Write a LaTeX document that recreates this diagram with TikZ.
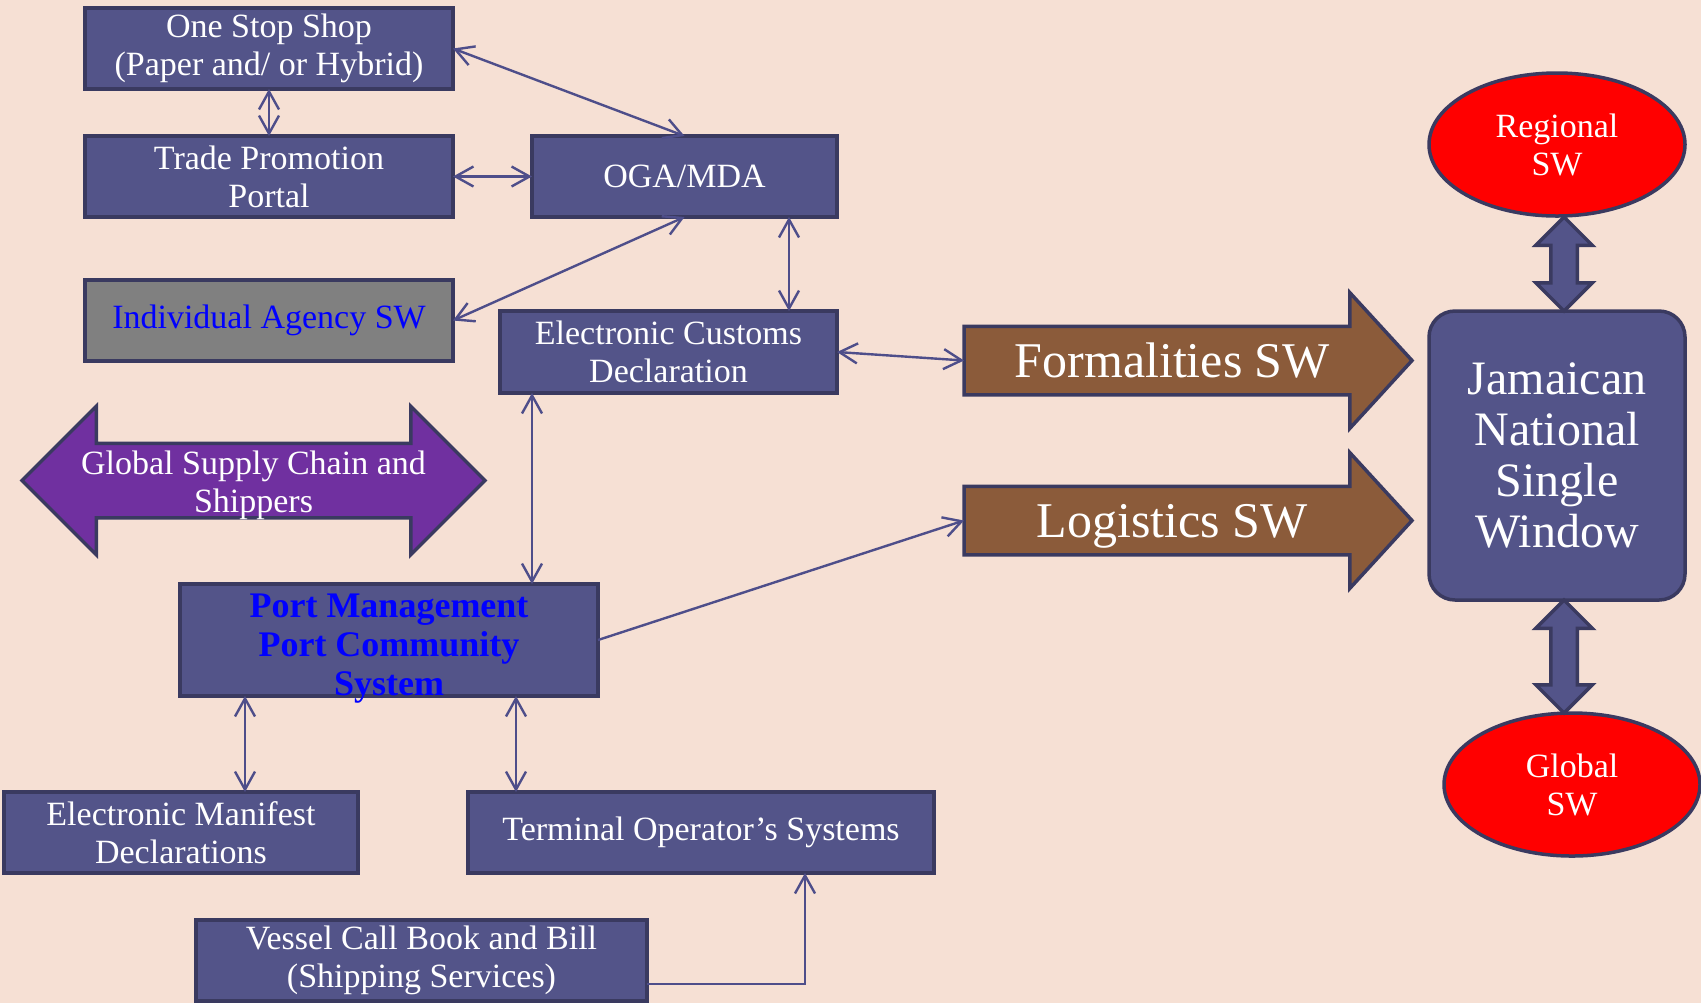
\documentclass[tikz,border=0pt]{standalone}
\usepackage{fontspec}
\setmainfont{Liberation Serif}
\usepackage{tikz}
\usetikzlibrary{positioning,shapes.geometric,shapes.arrows,arrows.meta}
\definecolor{fondo}{RGB}{246,224,212}
\definecolor{azulcaja}{RGB}{83,84,137}
\definecolor{borde}{RGB}{58,58,96}
\definecolor{linea}{RGB}{78,78,138}
\definecolor{marron}{RGB}{139,91,58}
\definecolor{morado}{RGB}{112,48,160}
\definecolor{gris}{RGB}{128,128,128}

\begin{document}
\begin{tikzpicture}[x=0.5pt,y=-0.5pt]
\tikzset{
    bloque/.style={rectangle, draw=borde, fill=azulcaja, line width=1.75pt, inner sep=0pt, outer sep=0pt,
                   minimum width=184pt, minimum height=40.5pt, align=center, text=white,
                   font=\fontsize{17}{19}\selectfont},
    flecha/.style={<->, >={Straight Barb[length=9pt,width=10pt]}, draw=linea, line width=1.2pt},
    elipse/.style={ellipse, draw=borde, fill=red, line width=1.75pt, inner sep=0pt, outer sep=0pt,
                   minimum width=128pt, minimum height=71.5pt, align=center, text=white,
                   font=\fontsize{17}{19}\selectfont},
    flechota/.style={single arrow, draw=borde, fill=marron, line width=1.75pt, inner sep=0pt, outer sep=0pt,
                   text height=24.5pt, text depth=8pt,
                   minimum height=224pt, minimum width=66pt, single arrow head extend=16.75pt,
                   single arrow tip angle=95, text=white, font=\fontsize{25}{30}\selectfont},
    dobleflecha/.style={double arrow, draw=borde, fill=morado, line width=1.75pt, inner sep=0pt, outer sep=0pt,
                   text height=33.5pt, text depth=2pt,
                   minimum height=231.5pt, minimum width=72.5pt, double arrow head extend=18.5pt,
                   align=center, text=white, font=\fontsize{17}{19}\selectfont},
    enlace/.style={double arrow, draw=borde, fill=azulcaja, line width=1.75pt, inner sep=0pt, outer sep=0pt,
                   text height=11.5pt, text depth=0pt,
                   minimum height=47pt, minimum width=26.5pt, double arrow head extend=7.5pt, rotate=90}
}
\useasboundingbox[fill=fondo] (0,0) rectangle (1701,1003);

% left column
\node[bloque] (oss) at (269,48.5) {One Stop Shop\\(Paper and/ or Hybrid)};
\node[bloque, below=23.5pt of oss] (tpp) {Trade Promotion\\Portal};
\node[bloque, minimum width=152.5pt, right=39.5pt of tpp] (oga) {OGA/MDA};
\node[bloque, fill=gris, text=blue, below=31.5pt of tpp] (ias) {Individual Agency SW};
\node[bloque, minimum width=168.5pt, minimum height=41pt, below=47pt of oga.south east, anchor=north east] (ecd) {Electronic Customs\\Declaration};
\node[dobleflecha] (gsc) at (253.5,480.5) {\makebox[0pt]{Global Supply Chain and}\\\makebox[0pt]{Shippers}};
\node[bloque, minimum width=209pt, minimum height=56pt, text height=55.25pt, text depth=0pt, text=blue,
      font=\bfseries\fontsize{18}{19.5}\selectfont] (pcs) at (389,640) {Port Management\\Port Community\\System};
\node[bloque, minimum width=177pt] (emd) at (181,832.5) {Electronic Manifest\\Declarations};
\node[bloque, minimum width=233pt, right=55pt of emd] (tos) {Terminal Operator’s Systems};
\node[bloque, minimum width=225.5pt] (vcb) at (421.5,960.5) {Vessel Call Book and Bill\\(Shipping Services)};

% big arrows
\node[flechota, anchor=tail] (form) at (964,360.5) {Formalities SW};
\node[flechota, anchor=tail] (logi) at (964,520.5) {Logistics SW};

% right column
\node[elipse] (reg) at (1557,144.5) {Regional\\SW};
\node[bloque, rounded corners=13pt, minimum width=128pt, minimum height=144.5pt,
      font=\fontsize{24}{25.5}\selectfont] (nsw) at (1557,455.5) {Jamaican\\National\\Single\\Window};
\node[elipse] (glo) at (1572,784.5) {Global\\SW};
\node[enlace] (e1) at (1564,264) {};
\node[enlace, minimum height=56.5pt] (e2) at (1564,656.5) {};

% connectors
\draw[flecha] (oss.east) -- (oga.north);
\draw[flecha] (oss.south) -- (tpp.north);
\draw[flecha] (tpp.east) -- (oga.west);
\draw[flecha] (oga.south) -- (ias.east);
\draw[flecha] ([xshift=-24pt]oga.south east) -- ([xshift=-24pt]ecd.north east);
\draw[flecha] (ecd.east) -- (form.tail);
\draw[flecha] ([xshift=16pt]ecd.south west) -- ([xshift=16pt]ecd.south west |- pcs.north);
\draw[flecha, ->] (pcs.east) -- (logi.tail);
\draw[flecha] ([xshift=32.5pt]pcs.south west) -- ([xshift=32.5pt]pcs.south west |- emd.north);
\draw[flecha] ([xshift=168pt]pcs.south west) -- ([xshift=168pt]pcs.south west |- tos.north);
\draw[flecha, ->] ([yshift=-11.75pt]vcb.east) -| ([xshift=52pt]tos.south);

\end{tikzpicture}
\end{document}
